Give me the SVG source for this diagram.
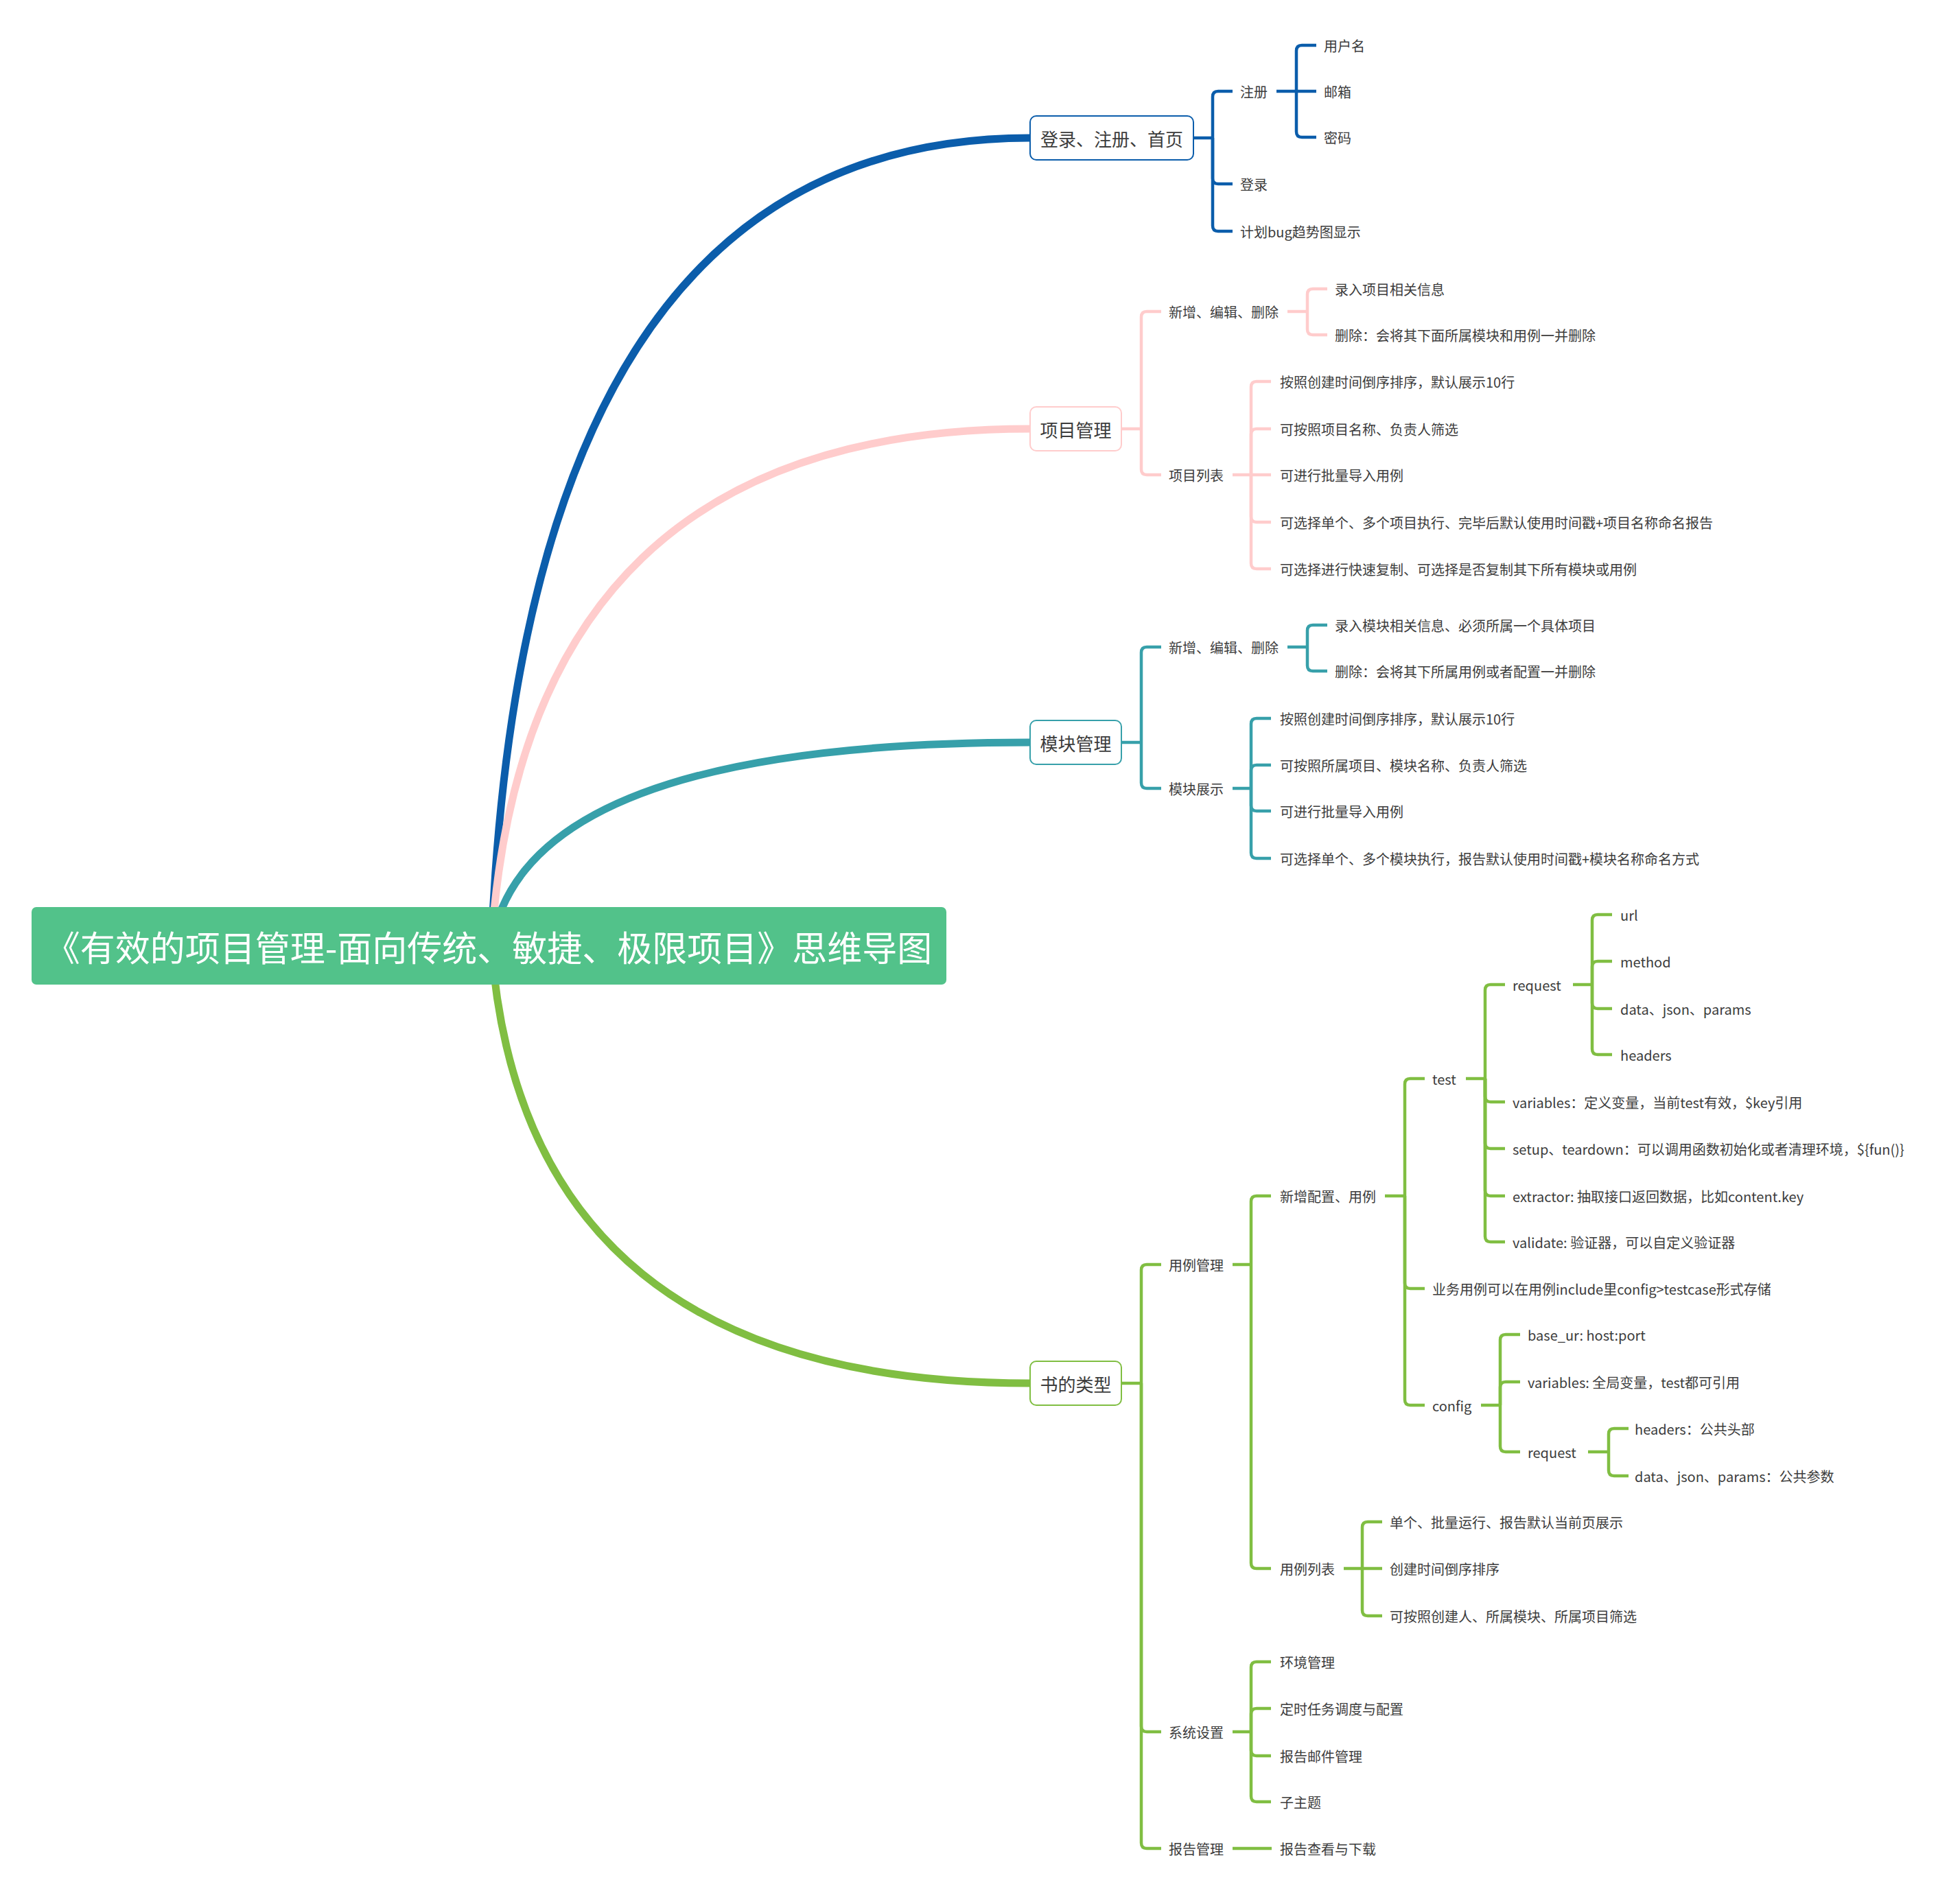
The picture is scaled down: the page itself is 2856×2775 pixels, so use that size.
<svg xmlns="http://www.w3.org/2000/svg" width="2856" height="2775" viewBox="0 0 2856 2775">
  <style>
    text { font-family: "Noto Sans CJK SC", "Liberation Sans", sans-serif; fill: #3c3c3c; dominant-baseline: central; }
    .t { font-size: 20px; }
    .main-t { font-size: 26px; text-anchor: middle; }
    .root-t { font-size: 51px; fill: #ffffff; text-anchor: middle; }
    .curve { fill: none; stroke-width: 11; stroke-linecap: butt; }
    .ln { fill: none; stroke-width: 4.5; stroke-linecap: butt; stroke-linejoin: round; }
    .box { fill: #ffffff; stroke-width: 2; }
    .blue { stroke: #0b5dab; }
    .pink { stroke: #ffcccc; }
    .teal { stroke: #37a0aa; }
    .green { stroke: #80be42; }
  </style>

  <!-- main branch curves, from the centre of the root topic -->
  <g id="connectors">
    <path class="curve blue" d="M716 1378 Q763 201 1501 201"/>
    <path class="curve pink" d="M716 1378 Q763 625 1501 625"/>
    <path class="curve teal" d="M716 1378 Q763 1082 1501 1082"/>
    <path class="curve green" d="M716 1378 Q763 2016 1501 2016"/>

    <!-- 登录、注册、首页 -->
    <g class="ln blue">
      <path d="M1739 201 H1767"/>
      <path d="M1767 201 V141 Q1767 133 1775 133 H1796"/>
      <path d="M1767 201 V260 Q1767 268 1775 268 H1796"/>
      <path d="M1767 201 V329 Q1767 337 1775 337 H1796"/>
      <path d="M1860 133 H1889"/>
      <path d="M1889 133 V74 Q1889 66 1897 66 H1918"/>
      <path d="M1889 133 H1918"/>
      <path d="M1889 133 V192 Q1889 200 1897 200 H1918"/>
    </g>

    <!-- 项目管理 -->
    <g class="ln pink">
      <path d="M1634 625 H1663"/>
      <path d="M1663 625 V462 Q1663 454 1671 454 H1692"/>
      <path d="M1663 625 V684 Q1663 692 1671 692 H1692"/>
      <path d="M1876 454 H1905"/>
      <path d="M1905 454 V429 Q1905 421 1913 421 H1934"/>
      <path d="M1905 454 V480 Q1905 488 1913 488 H1934"/>
      <path d="M1796 692 H1823"/>
      <path d="M1823 692 V564 Q1823 556 1831 556 H1852"/>
      <path d="M1823 692 V633 Q1823 625 1831 625 H1852"/>
      <path d="M1823 692 H1852"/>
      <path d="M1823 692 V753 Q1823 761 1831 761 H1852"/>
      <path d="M1823 692 V821 Q1823 829 1831 829 H1852"/>
    </g>

    <!-- 模块管理 -->
    <g class="ln teal">
      <path d="M1634 1082 H1663"/>
      <path d="M1663 1082 V951 Q1663 943 1671 943 H1692"/>
      <path d="M1663 1082 V1141 Q1663 1149 1671 1149 H1692"/>
      <path d="M1876 943 H1905"/>
      <path d="M1905 943 V919 Q1905 911 1913 911 H1934"/>
      <path d="M1905 943 V970 Q1905 978 1913 978 H1934"/>
      <path d="M1796 1149 H1823"/>
      <path d="M1823 1149 V1055 Q1823 1047 1831 1047 H1852"/>
      <path d="M1823 1149 V1123 Q1823 1115 1831 1115 H1852"/>
      <path d="M1823 1149 V1174 Q1823 1182 1831 1182 H1852"/>
      <path d="M1823 1149 V1243 Q1823 1251 1831 1251 H1852"/>
    </g>

    <!-- 书的类型 -->
    <g class="ln green">
      <path d="M1634 2016 H1663"/>
      <path d="M1663 2016 V1851 Q1663 1843 1671 1843 H1692"/>
      <path d="M1663 2016 V2516 Q1663 2524 1671 2524 H1692"/>
      <path d="M1663 2016 V2686 Q1663 2694 1671 2694 H1692"/>
      <!-- 用例管理 -->
      <path d="M1796 1843 H1823"/>
      <path d="M1823 1843 V1751 Q1823 1743 1831 1743 H1852"/>
      <path d="M1823 1843 V2278 Q1823 2286 1831 2286 H1852"/>
      <!-- 新增配置、用例 -->
      <path d="M2018 1743 H2047"/>
      <path d="M2047 1743 V1580 Q2047 1572 2055 1572 H2076"/>
      <path d="M2047 1743 V1870 Q2047 1878 2055 1878 H2076"/>
      <path d="M2047 1743 V2040 Q2047 2048 2055 2048 H2076"/>
      <!-- test -->
      <path d="M2136 1572 H2164"/>
      <path d="M2164 1572 V1443 Q2164 1435 2172 1435 H2193"/>
      <path d="M2164 1572 V1598 Q2164 1606 2172 1606 H2193"/>
      <path d="M2164 1572 V1666 Q2164 1674 2172 1674 H2193"/>
      <path d="M2164 1572 V1735 Q2164 1743 2172 1743 H2193"/>
      <path d="M2164 1572 V1802 Q2164 1810 2172 1810 H2193"/>
      <!-- request -->
      <path d="M2292 1435 H2320"/>
      <path d="M2320 1435 V1341 Q2320 1333 2328 1333 H2349"/>
      <path d="M2320 1435 V1409 Q2320 1401 2328 1401 H2349"/>
      <path d="M2320 1435 V1462 Q2320 1470 2328 1470 H2349"/>
      <path d="M2320 1435 V1529 Q2320 1537 2328 1537 H2349"/>
      <!-- config -->
      <path d="M2158 2048 H2186"/>
      <path d="M2186 2048 V1953 Q2186 1945 2194 1945 H2215"/>
      <path d="M2186 2048 V2022 Q2186 2014 2194 2014 H2215"/>
      <path d="M2186 2048 V2108 Q2186 2116 2194 2116 H2215"/>
      <!-- config / request -->
      <path d="M2314 2116 H2344"/>
      <path d="M2344 2116 V2090 Q2344 2082 2352 2082 H2373"/>
      <path d="M2344 2116 V2143 Q2344 2151 2352 2151 H2373"/>
      <!-- 用例列表 -->
      <path d="M1958 2286 H1985"/>
      <path d="M1985 2286 V2226 Q1985 2218 1993 2218 H2014"/>
      <path d="M1985 2286 H2014"/>
      <path d="M1985 2286 V2347 Q1985 2355 1993 2355 H2014"/>
      <!-- 系统设置 -->
      <path d="M1796 2524 H1823"/>
      <path d="M1823 2524 V2430 Q1823 2422 1831 2422 H1852"/>
      <path d="M1823 2524 V2498 Q1823 2490 1831 2490 H1852"/>
      <path d="M1823 2524 V2551 Q1823 2559 1831 2559 H1852"/>
      <path d="M1823 2524 V2618 Q1823 2626 1831 2626 H1852"/>
      <!-- 报告管理 -->
      <path d="M1796 2694 H1853"/>
    </g>
  </g>

  <!-- root topic -->
  <g id="root">
    <rect x="46" y="1322" width="1333" height="113" rx="7" fill="#52c28a"/>
    <text class="root-t" x="712" y="1379">《有效的项目管理-面向传统、敏捷、极限项目》思维导图</text>
  </g>

  <!-- main topics -->
  <g id="n-login">
    <rect class="box blue" x="1501" y="169" width="238" height="64" rx="9"/>
    <text class="main-t" x="1620" y="201">登录、注册、首页</text>
  </g>
  <g id="n-project">
    <rect class="box pink" x="1501" y="593" width="133" height="64" rx="9"/>
    <text class="main-t" x="1567.5" y="625">项目管理</text>
  </g>
  <g id="n-module">
    <rect class="box teal" x="1501" y="1050" width="133" height="64" rx="9"/>
    <text class="main-t" x="1567.5" y="1082">模块管理</text>
  </g>
  <g id="n-book">
    <rect class="box green" x="1501" y="1984" width="133" height="64" rx="9"/>
    <text class="main-t" x="1567.5" y="2016">书的类型</text>
  </g>

  <!-- 登录、注册、首页 subtopics -->
  <g id="n-register"><text class="t" x="1807" y="133">注册</text></g>
  <g id="n-username"><text class="t" x="1929" y="66">用户名</text></g>
  <g id="n-email"><text class="t" x="1929" y="133">邮箱</text></g>
  <g id="n-password"><text class="t" x="1929" y="200">密码</text></g>
  <g id="n-signin"><text class="t" x="1807" y="268">登录</text></g>
  <g id="n-bugtrend"><text class="t" x="1807" y="337">计划bug趋势图显示</text></g>

  <!-- 项目管理 subtopics -->
  <g id="n-p-edit"><text class="t" x="1703" y="454">新增、编辑、删除</text></g>
  <g id="n-p-edit-1"><text class="t" x="1945" y="421">录入项目相关信息</text></g>
  <g id="n-p-edit-2"><text class="t" x="1945" y="488">删除：会将其下面所属模块和用例一并删除</text></g>
  <g id="n-p-list"><text class="t" x="1703" y="692">项目列表</text></g>
  <g id="n-p-list-1"><text class="t" x="1865" y="556">按照创建时间倒序排序，默认展示10行</text></g>
  <g id="n-p-list-2"><text class="t" x="1865" y="625">可按照项目名称、负责人筛选</text></g>
  <g id="n-p-list-3"><text class="t" x="1865" y="692">可进行批量导入用例</text></g>
  <g id="n-p-list-4"><text class="t" x="1865" y="761">可选择单个、多个项目执行、完毕后默认使用时间戳+项目名称命名报告</text></g>
  <g id="n-p-list-5"><text class="t" x="1865" y="829">可选择进行快速复制、可选择是否复制其下所有模块或用例</text></g>

  <!-- 模块管理 subtopics -->
  <g id="n-m-edit"><text class="t" x="1703" y="943">新增、编辑、删除</text></g>
  <g id="n-m-edit-1"><text class="t" x="1945" y="911">录入模块相关信息、必须所属一个具体项目</text></g>
  <g id="n-m-edit-2"><text class="t" x="1945" y="978">删除：会将其下所属用例或者配置一并删除</text></g>
  <g id="n-m-show"><text class="t" x="1703" y="1149">模块展示</text></g>
  <g id="n-m-show-1"><text class="t" x="1865" y="1047">按照创建时间倒序排序，默认展示10行</text></g>
  <g id="n-m-show-2"><text class="t" x="1865" y="1115">可按照所属项目、模块名称、负责人筛选</text></g>
  <g id="n-m-show-3"><text class="t" x="1865" y="1182">可进行批量导入用例</text></g>
  <g id="n-m-show-4"><text class="t" x="1865" y="1251">可选择单个、多个模块执行，报告默认使用时间戳+模块名称命名方式</text></g>

  <!-- 书的类型 subtopics -->
  <g id="n-case-mgmt"><text class="t" x="1703" y="1843">用例管理</text></g>
  <g id="n-case-add"><text class="t" x="1865" y="1743">新增配置、用例</text></g>
  <g id="n-test"><text class="t" x="2087" y="1572">test</text></g>
  <g id="n-test-request"><text class="t" x="2204" y="1435">request</text></g>
  <g id="n-url"><text class="t" x="2361" y="1333">url</text></g>
  <g id="n-method"><text class="t" x="2361" y="1401">method</text></g>
  <g id="n-data"><text class="t" x="2361" y="1470">data、json、params</text></g>
  <g id="n-headers"><text class="t" x="2361" y="1537">headers</text></g>
  <g id="n-test-vars"><text class="t" x="2204" y="1606">variables：定义变量，当前test有效，$key引用</text></g>
  <g id="n-setup"><text class="t" x="2204" y="1674">setup、teardown：可以调用函数初始化或者清理环境，${fun()}</text></g>
  <g id="n-extractor"><text class="t" x="2204" y="1743">extractor: 抽取接口返回数据，比如content.key</text></g>
  <g id="n-validate"><text class="t" x="2204" y="1810">validate: 验证器，可以自定义验证器</text></g>
  <g id="n-include"><text class="t" x="2087" y="1878">业务用例可以在用例include里config&gt;testcase形式存储</text></g>
  <g id="n-config"><text class="t" x="2087" y="2048">config</text></g>
  <g id="n-baseurl"><text class="t" x="2226" y="1945">base_ur: host:port</text></g>
  <g id="n-config-vars"><text class="t" x="2226" y="2014">variables: 全局变量，test都可引用</text></g>
  <g id="n-config-request"><text class="t" x="2226" y="2116">request</text></g>
  <g id="n-common-headers"><text class="t" x="2382" y="2082">headers：公共头部</text></g>
  <g id="n-common-params"><text class="t" x="2382" y="2151">data、json、params：公共参数</text></g>
  <g id="n-case-list"><text class="t" x="1865" y="2286">用例列表</text></g>
  <g id="n-case-list-1"><text class="t" x="2025" y="2218">单个、批量运行、报告默认当前页展示</text></g>
  <g id="n-case-list-2"><text class="t" x="2025" y="2286">创建时间倒序排序</text></g>
  <g id="n-case-list-3"><text class="t" x="2025" y="2355">可按照创建人、所属模块、所属项目筛选</text></g>
  <g id="n-settings"><text class="t" x="1703" y="2524">系统设置</text></g>
  <g id="n-env"><text class="t" x="1865" y="2422">环境管理</text></g>
  <g id="n-schedule"><text class="t" x="1865" y="2490">定时任务调度与配置</text></g>
  <g id="n-mail"><text class="t" x="1865" y="2559">报告邮件管理</text></g>
  <g id="n-subtopic"><text class="t" x="1865" y="2626">子主题</text></g>
  <g id="n-report"><text class="t" x="1703" y="2694">报告管理</text></g>
  <g id="n-report-1"><text class="t" x="1865" y="2694">报告查看与下载</text></g>
</svg>
